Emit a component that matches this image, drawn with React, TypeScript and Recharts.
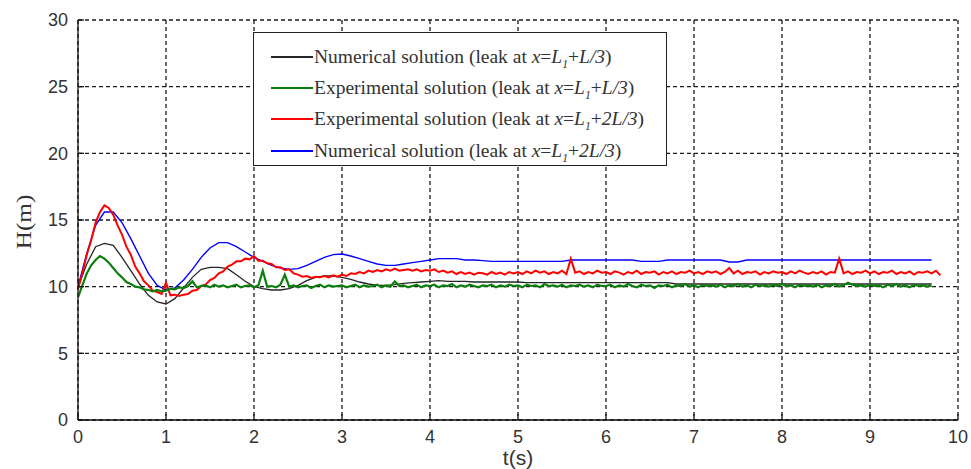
import React from 'react';
import { LineChart, Line, XAxis, YAxis, CartesianGrid, Legend, Label } from 'recharts';

const X_TICKS = [0, 1, 2, 3, 4, 5, 6, 7, 8, 9, 10];
const Y_TICKS = [0, 5, 10, 15, 20, 25, 30];

// sampling steps (s)
const NUM_DT = 0.1;
const EXP_DT = 0.05;

// numerical solution, leak at x = L1 + L/3 (t = 0 .. 9.7)
const numericalL3 = [
  10.0, 11.7, 13.0, 13.25, 13.1, 12.2, 11.2, 10.2, 9.35, 8.85,
  8.7, 9.1, 9.9, 10.7, 11.3, 11.45, 11.45, 11.35, 10.9, 10.4,
  10.0, 9.85, 9.75, 9.75, 9.85, 10.1, 10.45, 10.7, 10.8, 10.8,
  10.7, 10.55, 10.35, 10.2, 10.1, 10.1, 10.15, 10.25, 10.3, 10.35,
  10.4, 10.45, 10.4, 10.4, 10.4, 10.35, 10.35, 10.35, 10.35, 10.35,
  10.35, 10.3, 10.3, 10.3, 10.3, 10.3, 10.3, 10.3, 10.3, 10.3,
  10.3, 10.3, 10.3, 10.3, 10.3, 10.3, 10.3, 10.3, 10.2, 10.2,
  10.2, 10.2, 10.2, 10.2, 10.2, 10.2, 10.2, 10.2, 10.2, 10.2,
  10.2, 10.2, 10.2, 10.2, 10.2, 10.2, 10.2, 10.2, 10.2, 10.2,
  10.2, 10.2, 10.2, 10.2, 10.2, 10.2, 10.2, 10.2,
];

// numerical solution, leak at x = L1 + 2L/3 (t = 0 .. 9.7)
const numerical2L3 = [
  10.0, 12.5, 14.6, 15.6, 15.6, 14.8, 13.6, 12.3, 11.0, 10.1,
  9.75, 9.9, 10.5, 11.3, 12.2, 12.9, 13.3, 13.3, 13.0, 12.6,
  12.2, 11.9, 11.6, 11.4, 11.3, 11.35, 11.6, 11.9, 12.2, 12.4,
  12.45, 12.3, 12.1, 11.9, 11.7, 11.6, 11.6, 11.7, 11.8, 11.9,
  12.0, 12.1, 12.1, 12.1, 12.0, 12.0, 11.95, 11.9, 11.9, 11.9,
  11.9, 11.9, 11.9, 11.9, 11.9, 11.9, 12.0, 12.0, 12.0, 12.0,
  12.0, 12.0, 12.0, 12.0, 11.9, 11.9, 11.9, 12.0, 12.0, 12.0,
  12.0, 12.0, 12.0, 12.0, 11.85, 11.85, 12.0, 12.0, 12.0, 12.0,
  12.0, 12.0, 12.0, 12.0, 12.0, 12.0, 12.0, 12.0, 12.0, 12.0,
  12.0, 12.0, 12.0, 12.0, 12.0, 12.0, 12.0, 12.0,
];

// experimental, leak at x = L1 + L/3 (t = 0 .. 9.7)
const experimentalL3 = [
  9.2, 10.1, 11.0, 11.6, 12.0, 12.3, 12.1, 11.8, 11.4, 11.0, 10.7, 10.35, 10.2, 10.0, 9.95, 9.8, 9.75, 9.65, 9.75, 9.65,
  9.7, 9.85, 9.8, 9.95, 9.9, 10.05, 10.4, 9.95, 10.05, 10.1, 9.95, 10.15, 10.0, 10.1, 9.95, 10.05, 10.15, 9.95, 10.05, 10.1,
  9.95, 10.1, 11.2, 10.0, 10.05, 9.95, 10.15, 10.9, 10.0, 10.1, 9.95, 10.05, 10.1, 9.9, 10.05, 10.15, 9.95, 10.1, 10.0, 10.05,
  10.1, 9.95, 10.05, 10.15, 9.95, 10.1, 10.0, 10.05, 10.15, 9.95, 10.1, 10.0, 10.4, 10.05, 10.1, 9.95, 10.05, 10.15, 9.95, 10.1,
  10.05, 10.15, 9.95, 10.1, 10.05, 10.2, 9.95, 10.1, 10.0, 10.15, 10.05, 9.95, 10.1, 10.05, 10.15, 9.95, 10.1, 10.0, 10.15, 10.05,
  10.1, 9.95, 10.15, 10.05, 10.1, 9.95, 10.2, 10.05, 10.1, 10.0, 10.15, 9.95, 10.1, 10.05, 10.15, 10.0, 10.1, 9.95, 10.15, 10.05,
  10.05, 10.15, 9.95, 10.1, 10.0, 10.2, 10.05, 9.95, 10.15, 10.05, 10.1, 9.9, 10.1, 10.05, 10.15, 9.95, 10.1, 10.05, 10.2, 10.0,
  10.1, 9.95, 10.15, 10.05, 10.1, 10.0, 10.15, 9.95, 10.1, 10.05, 10.2, 10.0, 10.1, 9.95, 10.15, 10.05, 10.1, 10.0, 10.15, 10.05,
  10.2, 10.05, 10.1, 9.95, 10.15, 10.05, 10.1, 10.0, 10.15, 9.95, 10.1, 10.05, 10.2, 10.0, 10.1, 10.3, 10.15, 10.05, 10.1, 10.0,
  10.15, 10.05, 10.1, 9.95, 10.15, 10.05, 10.2, 10.0, 10.1, 9.95, 10.15, 10.05, 10.1, 10.0, 10.1,
];

// experimental, leak at x = L1 + 2L/3 (t = 0 .. 9.8)
const experimental2L3 = [
  9.8, 11.0, 12.4, 13.5, 14.8, 15.6, 16.1, 15.9, 15.4, 14.6, 13.9, 13.0, 12.4, 11.5, 11.0, 10.4, 10.1, 9.7, 9.6, 9.45,
  10.3, 9.35, 9.4, 9.3, 9.4, 9.45, 9.7, 9.75, 10.05, 10.15, 10.5, 10.65, 11.0, 11.15, 11.5, 11.65, 11.9, 11.9, 12.1, 12.05,
  12.3, 11.95, 11.95, 11.75, 11.7, 11.45, 11.45, 11.25, 11.3, 11.0, 10.9, 10.75, 10.8, 10.65, 10.75, 10.7, 10.8, 10.7, 10.85, 10.75,
  10.9, 10.8, 11.0, 10.95, 11.1, 11.0, 11.2, 11.1, 11.25, 11.15, 11.3, 11.2, 11.35, 11.2, 11.25, 11.3, 11.2, 11.3, 11.15, 11.25,
  11.2, 11.3, 11.1, 11.2, 11.05, 11.15, 10.95, 11.1, 10.95, 11.05, 10.9, 11.05, 11.0, 10.9, 11.1, 10.95, 11.05, 10.9, 11.1, 11.0,
  11.1, 10.95, 11.15, 11.0, 11.2, 11.05, 11.15, 10.95, 11.1, 11.0, 11.2, 10.95, 12.1, 11.05, 11.15, 10.95, 11.1, 11.0, 11.2, 11.05,
  11.1, 10.95, 11.15, 11.05, 10.9, 11.1, 11.0, 11.2, 10.95, 11.1, 11.05, 11.15, 10.9, 11.1, 11.0, 11.15, 10.95, 11.1, 11.05, 11.2,
  11.0, 11.1, 10.95, 11.15, 11.05, 11.15, 10.95, 11.1, 11.4, 11.0, 11.2, 10.95, 11.1, 11.05, 11.15, 10.9, 11.1, 11.0, 11.15, 11.05,
  11.1, 10.95, 11.15, 11.0, 11.2, 11.05, 10.95, 11.1, 11.0, 11.15, 10.9, 11.1, 11.05, 12.1, 11.0, 11.15, 10.95, 11.1, 11.05, 11.2,
  11.0, 11.15, 10.95, 11.1, 11.05, 11.2, 10.95, 11.1, 11.0, 11.15, 10.9, 11.1, 11.05, 11.15, 11.0, 11.2, 10.85,
];

const toRows = (vals: number[], dt: number) =>
  vals.map((h, i) => ({ t: Math.round(i * dt * 100) / 100, h }));

// legend order follows the reference
const SERIES = [
  { key: 'numL3', name: 'Numerical solution', frac: 'L/3', color: '#262626', width: 1.3, data: toRows(numericalL3, NUM_DT) },
  { key: 'expL3', name: 'Experimental solution', frac: 'L/3', color: '#0b7f0b', width: 2.2, data: toRows(experimentalL3, EXP_DT) },
  { key: 'exp2L3', name: 'Experimental solution', frac: '2L/3', color: '#ff0000', width: 2, data: toRows(experimental2L3, EXP_DT) },
  { key: 'num2L3', name: 'Numerical solution', frac: '2L/3', color: '#0000ff', width: 1.4, data: toRows(numerical2L3, NUM_DT) },
];
// drawing order: green sits over black, red peak over blue
const DRAW_ORDER = ['numL3', 'num2L3', 'exp2L3', 'expL3'];

const tickFont = { fontFamily: '"Liberation Sans", Arial, sans-serif', fontSize: 18, fill: '#333' };

function LegendBox() {
  return (
    <div
      style={{
        background: '#fff',
        border: '1px solid #222',
        padding: '8px 0 0 17px',
        fontFamily: '"Liberation Serif", "Times New Roman", serif',
        fontSize: 19.5,
        color: '#333',
        boxSizing: 'border-box',
        width: 414,
        height: 134,
      }}
    >
      {SERIES.map((s) => (
        <div key={s.key} style={{ display: 'flex', alignItems: 'center', height: 31.3, whiteSpace: 'nowrap' }}>
          <span style={{ display: 'inline-block', width: 42, height: 2, background: s.color, marginRight: 1 }} />
          <span style={{ lineHeight: '20px' }}>
            {s.name} (leak at <i>x</i>=<i>L</i>
            <sub style={{ fontSize: '0.6em', fontStyle: 'italic', lineHeight: 0 }}>1</sub>+<i>{s.frac}</i>)
          </span>
        </div>
      ))}
    </div>
  );
}

export default function App() {
  return (
    <div style={{ position: 'absolute', left: 0, top: 0, background: '#fff' }}>
      <LineChart width={971} height={469} margin={{ top: 20, right: 13, bottom: 19, left: 0 }}>
        <CartesianGrid stroke="#1a1a1a" strokeDasharray="4 3" strokeWidth={1.3} />
        <XAxis
          dataKey="t"
          type="number"
          domain={[0, 10]}
          ticks={X_TICKS}
          allowDataOverflow
          height={30}
          tickSize={-6}
          tickMargin={16}
          stroke="#111"
          strokeWidth={1.3}
          tick={tickFont}
        >
          <Label
            value="t(s)"
            position="bottom"
            offset={0}
            style={{ fontFamily: '"Liberation Sans", Arial, sans-serif', fontSize: 21, fill: '#333' }}
          />
        </XAxis>
        <XAxis
          xAxisId="top"
          orientation="top"
          dataKey="t"
          type="number"
          domain={[0, 10]}
          ticks={X_TICKS}
          height={0}
          tickSize={-6}
          tick={false}
          stroke="#111"
          strokeWidth={1.3}
        />
        <YAxis
          type="number"
          domain={[0, 30]}
          ticks={Y_TICKS}
          width={78}
          tickSize={-6}
          tickMargin={16}
          stroke="#111"
          strokeWidth={1.3}
          tick={tickFont}
        >
          <Label
            content={({ viewBox }: any) => {
              const cx = viewBox.x + 24;
              const cy = viewBox.y + viewBox.height / 2 + 2;
              return (
                <text
                  transform={`translate(${cx}, ${cy}) rotate(-90) scale(1.2, 1)`}
                  textAnchor="middle"
                  dominantBaseline="central"
                  style={{ fontFamily: '"Liberation Serif", "Times New Roman", serif', fontSize: 21, fill: '#333' }}
                >
                  H(m)
                </text>
              );
            }}
          />
        </YAxis>
        <YAxis
          yAxisId="right"
          orientation="right"
          type="number"
          domain={[0, 30]}
          ticks={Y_TICKS}
          width={0}
          tickSize={-6}
          tick={false}
          stroke="#111"
          strokeWidth={1.3}
        />
        <Legend
          layout="vertical"
          align="center"
          verticalAlign="middle"
          content={() => <LegendBox />}
          wrapperStyle={{ left: 253, top: 32, width: 414, height: 134 }}
        />
        {DRAW_ORDER.map((k) => {
          const s = SERIES.find((x) => x.key === k)!;
          return (
            <Line
              key={s.key}
              data={s.data}
              dataKey="h"
              name={s.key}
              type="linear"
              stroke={s.color}
              strokeWidth={s.width}
              dot={false}
              activeDot={false}
              isAnimationActive={false}
            />
          );
        })}
      </LineChart>
    </div>
  );
}
